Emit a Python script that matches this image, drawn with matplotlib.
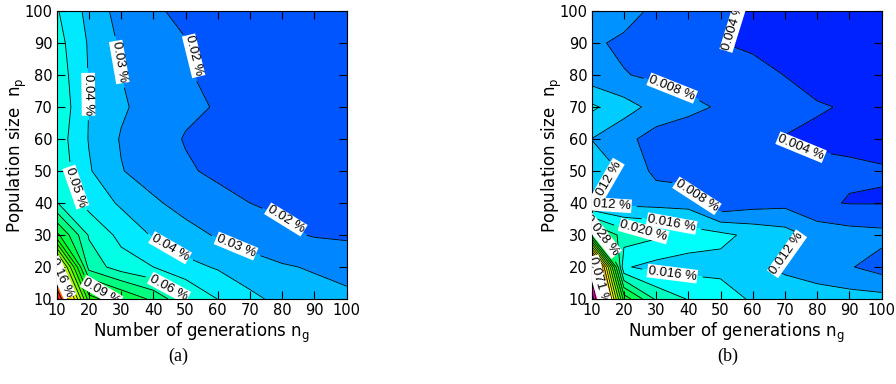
import colorsys

import matplotlib
matplotlib.use("Agg")
import matplotlib.pyplot as plt
import numpy as np

plt.rcParams["font.family"] = ["DejaVu Sans"]
plt.rcParams["mathtext.default"] = "regular"

# grid of the parameter study
generations = [10, 20, 30, 40, 50, 60, 70, 80, 90, 100]
population = [10, 20, 30, 40, 50, 60, 70, 80, 90, 100]

# (a) mean error in %, one row per population size (10 ... 100)
error_a = [
    [0.205, 0.105, 0.090, 0.0775, 0.061, 0.0498, 0.0425, 0.037, 0.034, 0.032],
    [0.160, 0.066, 0.055, 0.050, 0.043, 0.039, 0.034, 0.031, 0.029, 0.027],
    [0.093, 0.059, 0.047, 0.039, 0.0335, 0.029, 0.0255, 0.022, 0.0193, 0.0185],
    [0.0605, 0.0465, 0.0385, 0.0315, 0.0265, 0.0225, 0.0200, 0.0185, 0.0175, 0.0170],
    [0.057, 0.041, 0.0305, 0.0255, 0.021, 0.0185, 0.0175, 0.0165, 0.016, 0.0155],
    [0.0555, 0.0395, 0.0292, 0.0235, 0.0195, 0.0175, 0.0165, 0.016, 0.0155, 0.015],
    [0.058, 0.0398, 0.0315, 0.0255, 0.0215, 0.0195, 0.017, 0.016, 0.0155, 0.015],
    [0.056, 0.0395, 0.030, 0.025, 0.0205, 0.0185, 0.017, 0.016, 0.0155, 0.015],
    [0.054, 0.039, 0.0285, 0.024, 0.0205, 0.0185, 0.017, 0.016, 0.015, 0.0145],
    [0.051, 0.037, 0.026, 0.0215, 0.0175, 0.0165, 0.016, 0.0155, 0.015, 0.0145],
]

# (b) standard deviation of the error in %, same layout
error_b = [
    [0.090, 0.034, 0.023, 0.0195, 0.018, 0.0152, 0.0145, 0.014, 0.0135, 0.0133],
    [0.080, 0.0162, 0.0145, 0.0145, 0.0145, 0.0128, 0.011, 0.0095, 0.0082, 0.00624],
    [0.030, 0.0220, 0.0205, 0.0175, 0.0168, 0.0148, 0.0135, 0.0105, 0.0095, 0.00903],
    [0.0115, 0.0108, 0.0105, 0.0105, 0.0045, 0.0062, 0.0068, 0.0044, 0.0038, 0.0038],
    [0.0135, 0.0115, 0.0068, 0.0060, 0.0055, 0.0050, 0.0050, 0.0045, 0.0043, 0.0041],
    [0.0118, 0.0090, 0.0063, 0.0058, 0.0055, 0.0050, 0.0038, 0.0036, 0.0035, 0.0034],
    [0.0165, 0.0135, 0.0105, 0.0088, 0.0075, 0.0060, 0.0050, 0.0041, 0.0038, 0.0035],
    [0.0095, 0.0081, 0.0072, 0.0065, 0.0058, 0.0048, 0.0039, 0.0033, 0.0030, 0.0029],
    [0.0085, 0.0072, 0.0062, 0.0052, 0.0040, 0.0035, 0.0030, 0.0028, 0.0027, 0.0026],
    [0.0105, 0.0093, 0.0071, 0.0055, 0.0045, 0.0037, 0.0030, 0.0028, 0.0027, 0.0026],
]

levels_a = np.round(np.arange(1, 22) * 0.01, 4)
levels_b = np.round(np.arange(0, 24) * 0.00395, 5)

# label anchors (data coordinates) per contour level
labels_a = [
    (0.02, [(52, 86), (82, 36)]),
    (0.03, [(29, 84), (65, 25)]),
    (0.04, [(21, 74), (44, 24)]),
    (0.05, [(16, 45)]),
    (0.06, [(44, 12)]),
    (0.09, [(24, 12.5)]),
    (0.16, [(12.1, 17)]),
]
labels_b = [
    (0.00395, [(54, 95), (75, 57.5)]),
    (0.0079, [(35, 76), (43, 42.5)]),
    (0.01185, [(13.6, 47.2), (14.5, 38.5), (69, 25.5)]),
    (0.0158, [(34.8, 33.5), (34.8, 15.9)]),
    (0.01975, [(26, 30.2)]),
    (0.02765, [(14.1, 30.8)]),
    (0.0711, [(13.1, 16)]),
]


def band_colors(n, h0, step):
    return [colorsys.hsv_to_rgb(((h0 - step * k) % 360) / 360.0, 1.0, 1.0) for k in range(n)]


def draw_panel(ax, z, levels, h0, step, fmt, label_spec):
    X, Y = np.meshgrid(generations, population)
    Z = np.array(z)
    ax.contourf(X, Y, Z, levels=levels, colors=band_colors(len(levels) - 1, h0, step))

    inner = list(levels[1:-1])
    labelled = [inner[int(np.argmin(np.abs(np.array(inner) - v)))] for v, _ in label_spec]
    plain = [lv for lv in inner if lv not in labelled]
    ax.contour(X, Y, Z, levels=plain, colors="k", linewidths=0.6)

    texts = []
    for lev, (_, spots) in zip(labelled, label_spec):
        cs = ax.contour(X, Y, Z, levels=[lev], colors="k", linewidths=0.6)
        texts += cs.clabel(manual=spots, fmt=fmt, fontsize=9.5,
                           inline=True, inline_spacing=3)
    for t in texts:
        t.set_family(["Liberation Sans", "DejaVu Sans"])
        t.set_bbox(dict(facecolor="white", edgecolor="none", pad=0.6))
        t.set_clip_on(True)

    ax.set_xlim(10, 100)
    ax.set_ylim(10, 100)
    ax.set_xticks(generations)
    ax.set_yticks(population)
    ax.tick_params(direction="in", top=True, right=True, length=5.5, width=0.8,
                   labelsize=10.5, pad=3)
    for s in ax.spines.values():
        s.set_linewidth(0.8)
    ax.set_xlabel("Number of generations n$_g$", fontsize=12)
    ax.set_ylabel("Population size  n$_p$", fontsize=12)
    ax.xaxis.set_label_coords(0.5, -0.075)
    ax.yaxis.set_label_coords(-0.095, 0.5)


fig = plt.figure(figsize=(8.96, 3.84), dpi=100)
ax_a = fig.add_axes([56.7 / 896, 1 - 299 / 384, 290 / 896, 288 / 384])
ax_b = fig.add_axes([591.7 / 896, 1 - 299 / 384, 290 / 896, 288 / 384])

draw_panel(ax_a, error_a, levels_a, 220, 11.6,
           lambda v: f"{v:.2f} %", labels_a)
draw_panel(ax_b, error_b, levels_b, 232, 13.3,
           lambda v: f"{v:.3f} %", labels_b)

fig.text(178 / 896, 1 - 356 / 384, "(a)", family="Liberation Serif",
         fontsize=13, ha="center", va="center")
fig.text(728 / 896, 1 - 356 / 384, "(b)", family="Liberation Serif",
         fontsize=13, ha="center", va="center")

fig.savefig("out.png", dpi=100)
